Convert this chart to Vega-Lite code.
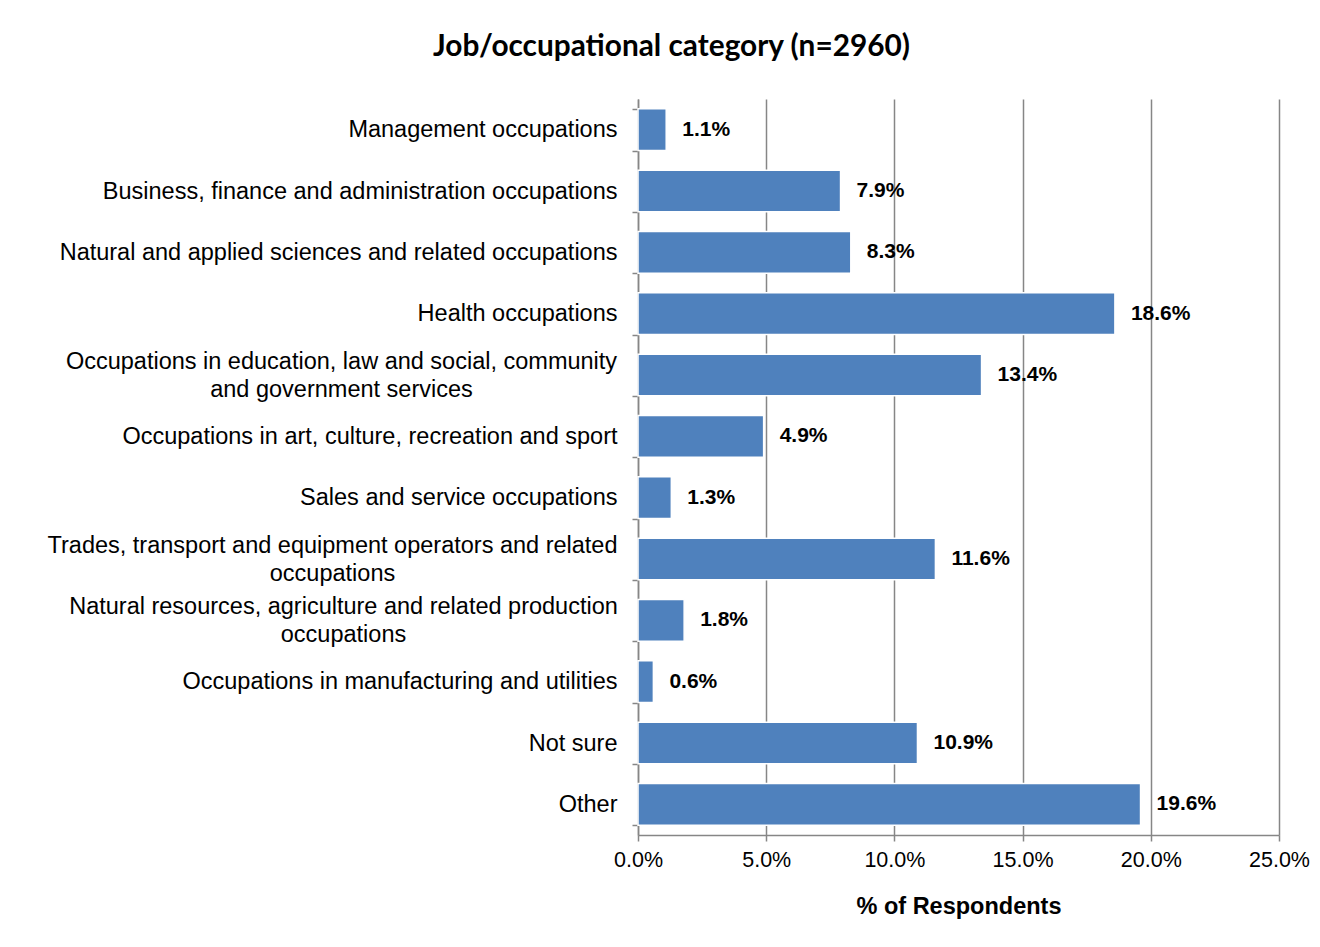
{
  "$schema": "https://vega.github.io/schema/vega-lite/v6.json",
  "autosize": "none",
  "width": 641,
  "height": 736,
  "padding": {"left": 638, "top": 99, "right": 41, "bottom": 112},
  "background": "white",
  "title": {
    "text": "Job/occupational category (n=2960)",
    "font": "Lato",
    "fontSize": 29.8,
    "fontWeight": "bold",
    "color": "black",
    "anchor": "start",
    "frame": "group",
    "dx": -205,
    "offset": 25
  },
  "data": {
    "values": [
      {"category": "Management occupations", "pct": 0.011},
      {"category": "Business, finance and administration occupations", "pct": 0.079},
      {"category": "Natural and applied sciences and related occupations", "pct": 0.083},
      {"category": "Health occupations", "pct": 0.186},
      {"category": "Occupations in education, law and social, community|and government services", "pct": 0.134},
      {"category": "Occupations in art, culture, recreation and sport", "pct": 0.049},
      {"category": "Sales and service occupations", "pct": 0.013},
      {"category": "Trades, transport and equipment operators and related|occupations", "pct": 0.116},
      {"category": "Natural resources, agriculture and related production|occupations", "pct": 0.018},
      {"category": "Occupations in manufacturing and utilities", "pct": 0.006},
      {"category": "Not sure", "pct": 0.109},
      {"category": "Other", "pct": 0.196}
    ]
  },
  "encoding": {
    "y": {
      "field": "category",
      "type": "nominal",
      "sort": null,
      "scale": {"paddingInner": 0.32, "paddingOuter": 0.16},
      "axis": {
        "title": null,
        "labelExpr": "datum.value ? split(datum.value, '|') : ''",
        "labelFont": "Liberation Sans",
        "labelFontSize": 23.5,
        "labelColor": "black",
        "labelLineHeight": 28,
        "labelPadding": {
          "condition": [
            {"test": "datum.value && indexof(datum.value, 'education') >= 0", "value": 291},
            {"test": "datum.value && indexof(datum.value, 'Trades') >= 0", "value": 300},
            {"test": "datum.value && indexof(datum.value, 'Natural resources') >= 0", "value": 289}
          ],
          "value": 15
        },
        "labelAlign": {"condition": {"test": "datum.value && indexof(datum.value, '|') >= 0", "value": "center"}, "value": "right"},
        "labelOffset": {"condition": {"test": "datum.value && indexof(datum.value, '|') >= 0", "value": -14}, "value": 0},
        "labelLimit": 700,
        "tickBand": "extent",
        "tickSize": 6,
        "tickColor": "#868686",
        "tickWidth": 1.5,
        "domainColor": "#868686",
        "domainWidth": 1.5,
        "grid": false
      }
    },
    "x": {
      "field": "pct",
      "type": "quantitative",
      "scale": {"domain": [0, 0.25], "nice": false},
      "axis": {
        "title": "% of Respondents",
        "titleFont": "Liberation Sans",
        "titleFontSize": 23.5,
        "titleFontWeight": "bold",
        "titleColor": "black",
        "titlePadding": 24,
        "values": [0, 0.05, 0.1, 0.15, 0.2, 0.25],
        "format": ".1%",
        "labelFont": "Liberation Sans",
        "labelFontSize": 21.5,
        "labelColor": "black",
        "labelPadding": 8,
        "labelFlush": false,
        "tickSize": 6,
        "tickColor": "#868686",
        "tickWidth": 1.5,
        "domainColor": "#868686",
        "domainWidth": 1.5,
        "grid": true,
        "gridColor": "#868686",
        "gridWidth": 1.5
      }
    }
  },
  "layer": [
    {
      "mark": {"type": "bar", "color": "#4F81BD", "stroke": "white", "strokeWidth": 1.5}
    },
    {
      "mark": {
        "type": "text",
        "align": "left",
        "baseline": "middle",
        "dx": 16,
        "font": "Liberation Sans",
        "fontSize": 21,
        "fontWeight": "bold",
        "color": "black"
      },
      "encoding": {
        "text": {"field": "pct", "type": "quantitative", "format": ".1%"}
      }
    }
  ],
  "config": {"view": {"stroke": null}}
}
